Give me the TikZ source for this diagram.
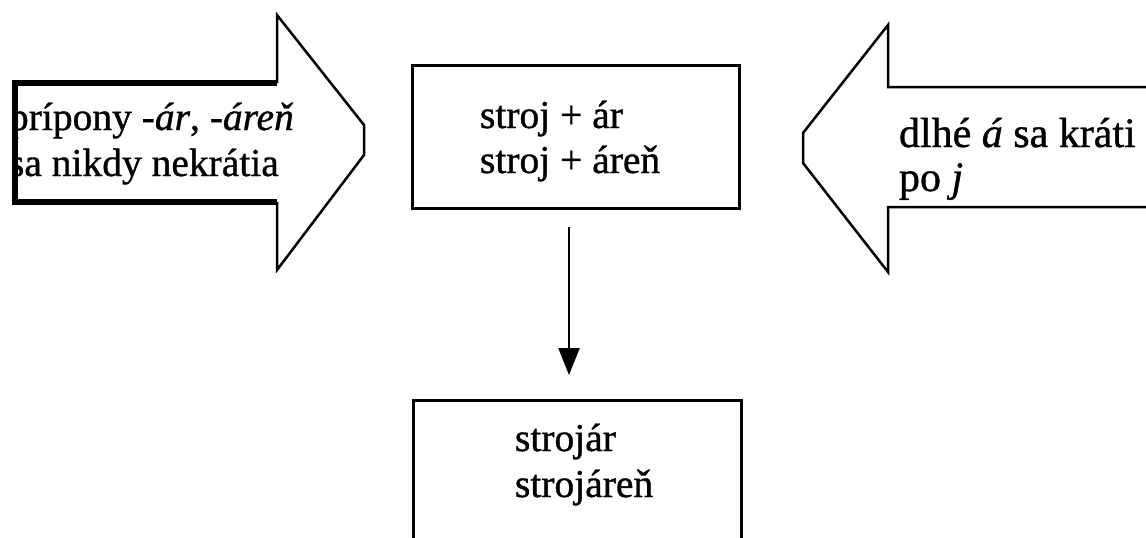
\documentclass[tikz,border=0pt]{standalone}
\usepackage{fontspec}
\setmainfont[FakeBold=0.9]{Liberation Serif}
\usetikzlibrary{arrows.meta}
\tikzset{
  wordline/.style={font=\fontsize{39.5}{46}\selectfont, anchor=base west, inner sep=0pt, outer sep=0pt},
  rightwords/.style={wordline, font=\fontsize{42}{46}\selectfont},
  framebox/.style={draw, line width=3pt, inner sep=0pt, outer sep=0pt},
  bigarrow/.style={draw, line width=2.5pt, line join=miter},
  heavyedge/.style={draw, line width=6pt, line join=miter},
  flowline/.style={draw, line width=2.5pt, -{Triangle[length=27pt,width=21pt]}},
}
\begin{document}
\begin{tikzpicture}[x=1pt,y=-1pt]
  \useasboundingbox (0,0) rectangle (1146,538);
  \clip (0,0) rectangle (1146,538);
  \fill[white] (0,0) rectangle (1146,538);

  % left block arrow: suffixes are never shortened
  \begin{scope}
    \clip (15,83) -- (277,83) -- (277,15) -- (364,125) -- (364,155)
          -- (277,270) -- (277,202) -- (15,202) -- cycle;
    \node[wordline] (suf1) at (9,130) {prípony \textit{-ár}, \textit{-áreň}};
    \node[wordline] (suf2) at (9,176) {sa nikdy nekrátia};
  \end{scope}
  \path[bigarrow] (277,83) -- (277,15) -- (364,125) -- (364,155)
        -- (277,270) -- (277,202);
  \path[heavyedge] (277,83) -- (15,83) -- (15,202) -- (277,202);

  % right block arrow: long á is shortened after j
  \path[bigarrow] (1160,87) -- (888,87) -- (888,25) -- (803,133) -- (803,163)
        -- (888,272) -- (888,207) -- (1160,207);
  \node[rightwords] (rule1) at (899,147) {dlhé \textit{á} sa kráti};
  \node[rightwords] (rule2) at (899,191) {po \textit{j}};

  % composition box
  \node[framebox, minimum width=327pt, minimum height=143pt] (parts) at (575.5,136.5) {};
  \node[wordline] (parts1) at (480,128) {stroj + ár};
  \node[wordline] (parts2) at (480,173) {stroj + áreň};

  % result box
  \node[framebox, minimum width=328pt, minimum height=200pt] (result) at (577,500) {};
  \node[wordline] (res1) at (515,451) {strojár};
  \node[wordline] (res2) at (515,497) {strojáreň};

  % derivation arrow
  \coordinate (axis) at (569,0);
  \path[flowline, shorten <=19pt, shorten >=25pt]
    (parts.south -| axis) -- (result.north -| axis);
\end{tikzpicture}
\end{document}
